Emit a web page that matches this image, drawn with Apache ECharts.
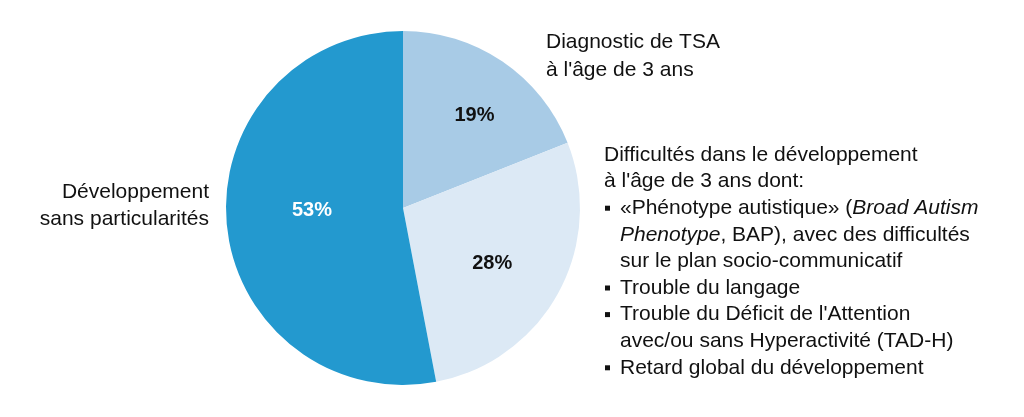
<!DOCTYPE html>
<html><head><meta charset="utf-8">
<script src="https://cdn.jsdelivr.net/npm/echarts@6/dist/echarts.min.js"></script>
<style>html,body{margin:0;padding:0;background:#fff}#c{width:1024px;height:417px}</style>
</head><body><div id="c"></div>
<script>
const categories = ['Diagnostic de TSA à l\'âge de 3 ans', 'Difficultés dans le développement à l\'âge de 3 ans', 'Développement sans particularités'];
const values = [19, 28, 53];
const percentLabels = ['19%', '28%', '53%'];
const topLabelLines = ['Diagnostic de TSA', 'à l\'âge de 3 ans'];
const leftLabelLines = ['Développement', 'sans particularités'];
const rightHeadLines = [
  'Difficultés dans le développement',
  'à l\'âge de 3 ans dont:'
];
const rightListLines = [
  '«Phénotype autistique» ({i|Broad Autism}',
  '{i|Phenotype}, BAP), avec des difficultés',
  'sur le plan socio-communicatif',
  'Trouble du langage',
  'Trouble du Déficit de l\'Attention',
  'avec/ou sans Hyperactivité (TAD-H)',
  'Retard global du développement'
];
const rightListBullets = [true, false, false, true, true, false, true];

const colors = ['#a8cbe6', '#dce9f5', '#2399cf'];
const labelColors = ['#111', '#111', '#fff'];
const labelShift = [[20, -17], [9, 11], [0, -6]];
const FONT = '"Liberation Sans", Arial, sans-serif';

const chart = echarts.init(document.getElementById('c'));

function textLines(lines, x, y0, step, align, rich) {
  return lines.map((t, i) => ({
    type: 'text',
    x: x, y: y0 + i * step,
    style: {
      text: t, fill: '#111', font: '21px ' + FONT,
      align: align, verticalAlign: 'middle', rich: rich
    }
  }));
}

const richRight = {
  i: { fontStyle: 'italic', fontSize: 21, fontFamily: FONT, fill: '#111', color: '#111' }
};

const STEP = 26.6;
const bullets = [];
rightListBullets.forEach((b, i) => {
  if (b) bullets.push({
    type: 'rect',
    shape: { x: 605, y: 155 + (i + 2) * STEP - 2.5, width: 5, height: 5 },
    style: { fill: '#111' }
  });
});

chart.setOption({
  animation: false,
  series: [{
    type: 'pie',
    center: [403, 208],
    radius: [0, 177],
    startAngle: 90,
    clockwise: true,
    silent: true,
    itemStyle: { borderWidth: 0 },
    label: {
      show: true, position: 'inside',
      fontFamily: FONT, fontWeight: 'bold', fontSize: 20,
      formatter: p => percentLabels[p.dataIndex]
    },
    labelLine: { show: false },
    labelLayout: p => ({ dx: labelShift[p.dataIndex][0], dy: labelShift[p.dataIndex][1] }),
    data: values.map((v, i) => ({
      name: categories[i], value: v,
      itemStyle: { color: colors[i] },
      label: { color: labelColors[i] }
    }))
  }],
  graphic: [
    ...textLines(topLabelLines, 546, 42, 28, 'left'),
    ...textLines(leftLabelLines, 209, 192, 27, 'right'),
    ...textLines(rightHeadLines, 604, 155, STEP, 'left'),
    ...textLines(rightListLines, 620, 155 + 2 * STEP, STEP, 'left', richRight),
    ...bullets
  ]
});
</script></body></html>
